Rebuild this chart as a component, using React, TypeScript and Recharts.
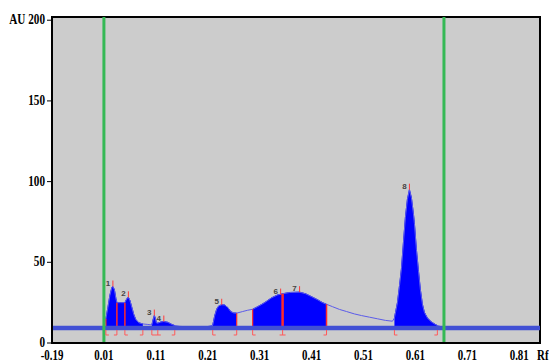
import React from "react";
import {
  ComposedChart,
  Area,
  Line,
  XAxis,
  YAxis,
  CartesianGrid,
  ReferenceLine,
  ReferenceArea,
  Scatter,
} from "recharts";

// Densitogram trace (Rf, AU)
const curveRf = [
  0.01, 0.0138, 0.0177, 0.0215, 0.0254, 0.0273, 0.0302, 0.0331, 0.035, 0.0427,
  0.0504, 0.0542, 0.0571, 0.06, 0.0638, 0.0677, 0.0715, 0.0773, 0.085, 0.0946,
  0.1023, 0.1052, 0.1071, 0.109, 0.111, 0.1138, 0.1196, 0.1254, 0.1331, 0.1408,
  0.1465, 0.1562, 0.1754, 0.1946, 0.21, 0.2196, 0.2235, 0.2273, 0.2312, 0.2369,
  0.2427, 0.2485, 0.2542, 0.26, 0.2658, 0.2773, 0.2869, 0.2965, 0.3062, 0.3196,
  0.3331, 0.3446, 0.3542, 0.3677, 0.3869, 0.3985, 0.41, 0.4215, 0.4312, 0.4388,
  0.4504, 0.4638, 0.4773, 0.4927, 0.5062, 0.5215, 0.5369, 0.5523, 0.5658, 0.5696,
  0.5754, 0.5792, 0.5831, 0.5869, 0.5908, 0.5946, 0.5985, 0.6023, 0.6062, 0.6081,
  0.6119, 0.6158, 0.6196, 0.6235, 0.6273, 0.6331, 0.6408, 0.6485, 0.6523, 0.6658,
];
const curveAU = [
  10, 15, 22, 29.5, 34.5, 35, 33, 27.5, 25, 25,
  25, 27.5, 28.3, 26.5, 22, 17.5, 14.5, 12.5, 11.8, 11.5,
  11.2, 15, 17, 15.5, 12.5, 12.3, 13, 13.3, 12.8, 11.5,
  10.8, 10.3, 10, 10, 10.2, 11, 17, 21, 23, 23.7,
  23.5, 22, 19.5, 18.6, 18.5, 19.5, 20.3, 20.9, 22.5, 25,
  28, 29.8, 30.5, 31.3, 31.5, 30.5, 28.7, 26.8, 25, 24,
  22.5, 20.8, 19.5, 18, 17, 16, 15, 14, 13.5, 15.5,
  25, 35, 46, 62, 78, 89, 95, 90, 80, 74,
  58, 45, 33, 24, 19, 15.5, 13, 11.5, 10.8, 9.5,
];

// Integrated (filled) zones
const zoneStart = [0.0138, 0.1023, 0.2196, 0.2965, 0.5696];
const zoneEnd = [0.085, 0.1465, 0.2658, 0.4388, 0.6523];

// Red zone dividers
const dividerRf = [0.0138, 0.035, 0.0504, 0.2658, 0.2965, 0.3542, 0.4388];
const dividerAU = [15, 25, 25, 18.5, 20.9, 30.5, 24];
const dividerWidth = [1.2, 1.5, 1.5, 1.2, 1.2, 2.5, 1.5];

// Peaks
const peakLabels = ["1", "2", "3", "4", "5", "6", "7", "8"];
const peakRf = [0.0273, 0.0571, 0.1071, 0.1254, 0.2369, 0.3504, 0.3869, 0.5985];
const peakAU = [35, 28.3, 17, 13.3, 23.7, 30, 31.5, 95];

// Zone brackets under the baseline
const bracketRf = [0.0138, 0.035, 0.0504, 0.085, 0.1023, 0.1138, 0.1465, 0.2196, 0.2658, 0.2965, 0.3542, 0.4388, 0.5696, 0.6523];
const bracketKind = ["L", "R", "L", "R", "L", "T", "R", "L", "R", "L", "T", "R", "L", "R"];

const baselineAU = 9.3;
const frontRf = [0.01, 0.665];

const xTickValues = [-0.09, 0.01, 0.11, 0.21, 0.31, 0.41, 0.51, 0.61, 0.71, 0.81, 0.85];
const xTickLabels = ["-0.19", "0.01", "0.11", "0.21", "0.31", "0.41", "0.51", "0.61", "0.71", "0.81", "Rf"];
const yTickValues = [0, 50, 100, 150, 200];
const yTickLabels = ["0", "50", "100", "150", "AU 200"];

const X_MIN = -0.09;
const X_MAX = 0.85;
const Y_MAX = 202;

const data = curveRf.map((rf, i) => {
  const au = curveAU[i];
  const inZone = zoneStart.some((s, k) => rf >= s - 1e-9 && rf <= zoneEnd[k] + 1e-9);
  return { rf, au, fill: inZone ? au : null };
});

const peaks = peakRf.map((rf, i) => ({ rf, au: peakAU[i], label: peakLabels[i] }));
const brackets = bracketRf.map((rf, i) => ({ rf, au: baselineAU, kind: bracketKind[i] }));

const FONT = "'Liberation Serif', 'Times New Roman', serif";

const XTick = (props: any) => {
  const { x, y, index } = props;
  const label = xTickLabels[index];
  const isUnit = label === "Rf";
  return (
    <g transform={`translate(${isUnit ? x - 3 : x},${y + 9}) scale(0.78,1)`}>
      <text
        x={0}
        y={0}
        textAnchor={isUnit ? "start" : "middle"}
        fontFamily={FONT}
        fontWeight="bold"
        fontSize={14}
        fill="#000"
      >
        {label}
      </text>
    </g>
  );
};

const YTick = (props: any) => {
  const { x, y, index } = props;
  return (
    <g transform={`translate(${x},${y + 4}) scale(0.8,1)`}>
      <text x={0} y={0} textAnchor="end" fontFamily={FONT} fontWeight="bold" fontSize={14} fill="#000">
        {yTickLabels[index]}
      </text>
    </g>
  );
};

const PeakShape = (props: any) => {
  const { cx, cy, payload } = props;
  return (
    <g>
      <line x1={cx} y1={cy} x2={cx} y2={cy - 6} stroke="#ff3b3b" strokeWidth={1} />
      <text
        x={cx - 5}
        y={cy - 1}
        textAnchor="middle"
        fontFamily="'Liberation Sans', Arial, sans-serif"
        fontWeight="bold"
        fontSize={8}
        fill="#444"
      >
        {payload.label}
      </text>
    </g>
  );
};

const BracketShape = (props: any) => {
  const { cx, cy, payload } = props;
  const top = cy + 2;
  const bot = cy + 7;
  let d = `M${cx},${top} L${cx},${bot}`;
  if (payload.kind === "L") d += ` L${cx + 3},${bot}`;
  else if (payload.kind === "R") d += ` M${cx - 3},${bot} L${cx},${bot}`;
  else d += ` M${cx - 3},${bot} L${cx + 3},${bot}`;
  return <path d={d} stroke="#ff5a5a" strokeWidth={1} fill="none" />;
};

export default function App() {
  return (
    <div style={{ position: "absolute", left: 0, top: 0, width: 549, height: 362, background: "#fff" }}>
      <ComposedChart
        width={549}
        height={362}
        data={data}
        margin={{ top: 17, right: 9, bottom: 0, left: 0 }}
      >
        <CartesianGrid horizontal={false} vertical={false} fill="#cccccc" fillOpacity={1} />
        <XAxis
          type="number"
          dataKey="rf"
          domain={[X_MIN, X_MAX]}
          ticks={xTickValues}
          interval={0}
          allowDataOverflow
          height={19}
          tickLine={false}
          axisLine={{ stroke: "#000", strokeWidth: 2 }}
          tick={<XTick />}
        />
        <YAxis
          type="number"
          domain={[0, Y_MAX]}
          ticks={yTickValues}
          interval={0}
          allowDataOverflow
          width={52}
          tickSize={5}
          tickMargin={2}
          tickLine={{ stroke: "#000" }}
          axisLine={{ stroke: "#000", strokeWidth: 2 }}
          tick={<YTick />}
        />
        <Area
          type="linear"
          dataKey="fill"
          baseValue={baselineAU}
          stroke="#0000ff"
          strokeWidth={1}
          fill="#0000ff"
          fillOpacity={1}
          connectNulls={false}
          dot={false}
          activeDot={false}
          isAnimationActive={false}
        />
        <Line
          type="linear"
          dataKey="au"
          stroke="#5b5bea"
          strokeWidth={1}
          dot={false}
          activeDot={false}
          isAnimationActive={false}
        />
        {dividerRf.map((rf, i) => (
          <ReferenceLine
            key={`dv${i}`}
            segment={[
              { x: rf, y: baselineAU },
              { x: rf, y: dividerAU[i] },
            ]}
            stroke="#ff2a2a"
            strokeWidth={dividerWidth[i]}
          />
        ))}
        <ReferenceLine y={baselineAU} stroke="#4150d4" strokeWidth={4.5} />
        {frontRf.map((rf, i) => (
          <ReferenceLine key={`fr${i}`} x={rf} stroke="#35b955" strokeWidth={3} />
        ))}
        <Scatter data={peaks} dataKey="au" shape={<PeakShape />} isAnimationActive={false} />
        <Scatter data={brackets} dataKey="au" shape={<BracketShape />} isAnimationActive={false} />
        <ReferenceArea
          x1={X_MIN}
          x2={X_MAX}
          y1={0}
          y2={Y_MAX}
          fill="none"
          fillOpacity={0}
          stroke="#000"
          strokeWidth={2}
        />
      </ComposedChart>
    </div>
  );
}
